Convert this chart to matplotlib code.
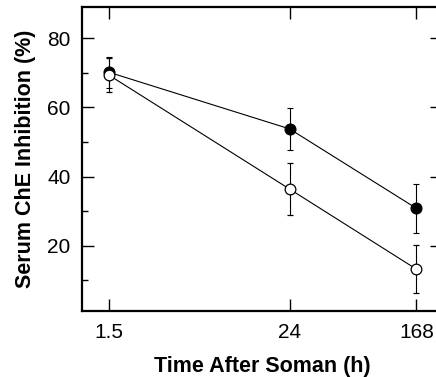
import matplotlib
matplotlib.use("Agg")
import matplotlib.pyplot as plt
from matplotlib.ticker import FixedLocator, NullLocator

plt.rcParams['font.family'] = ['Liberation Sans', 'DejaVu Sans']

time_h = [1.5, 24, 168]
time_labels = ["1.5", "24", "168"]
filled_mean = [70.2, 53.8, 30.8]
filled_err = [4.5, 6.0, 7.0]
open_mean = [69.4, 36.4, 13.2]
open_err = [4.8, 7.5, 7.0]

fig = plt.figure(figsize=(4.36, 3.77), dpi=100)
ax = fig.add_axes([82.25/436, 1-311.4/377, (442.4-82.25)/436, (311.4-7.2)/377])

ax.set_xscale('log')
ax.set_xlim(1, 250)
ax.set_ylim(1, 89)

ax.errorbar(time_h, filled_mean, yerr=filled_err, fmt='o', color='black',
            markersize=7.7, markerfacecolor='black', markeredgecolor='black',
            linestyle='-', linewidth=0.8, elinewidth=0.8, capsize=2.3, capthick=0.8, zorder=3)
ax.errorbar(time_h, open_mean, yerr=open_err, fmt='o', color='black',
            markersize=7.7, markerfacecolor='white', markeredgecolor='black', markeredgewidth=0.9,
            linestyle='-', linewidth=0.8, elinewidth=0.8, capsize=2.3, capthick=0.8, zorder=4)

ax.xaxis.set_major_locator(FixedLocator(time_h))
ax.xaxis.set_minor_locator(NullLocator())
ax.set_xticklabels(time_labels)
ax.yaxis.set_major_locator(FixedLocator([20, 40, 60, 80]))
ax.yaxis.set_minor_locator(FixedLocator([10, 30, 50, 70]))

ax.tick_params(which='both', direction='in', top=True, right=True, width=1.0)
ax.tick_params(which='major', length=8.6, pad=8.5, labelsize=15)
ax.tick_params(which='minor', length=4)

for s in ax.spines.values():
    s.set_linewidth(1.6)

ax.set_xlabel("Time After Soman (h)", fontsize=15.5, fontweight='bold', labelpad=10)
ax.set_ylabel("Serum ChE Inhibition (%)", fontsize=15.5, fontweight='bold', labelpad=8)

fig.savefig("out.png", dpi=100)
